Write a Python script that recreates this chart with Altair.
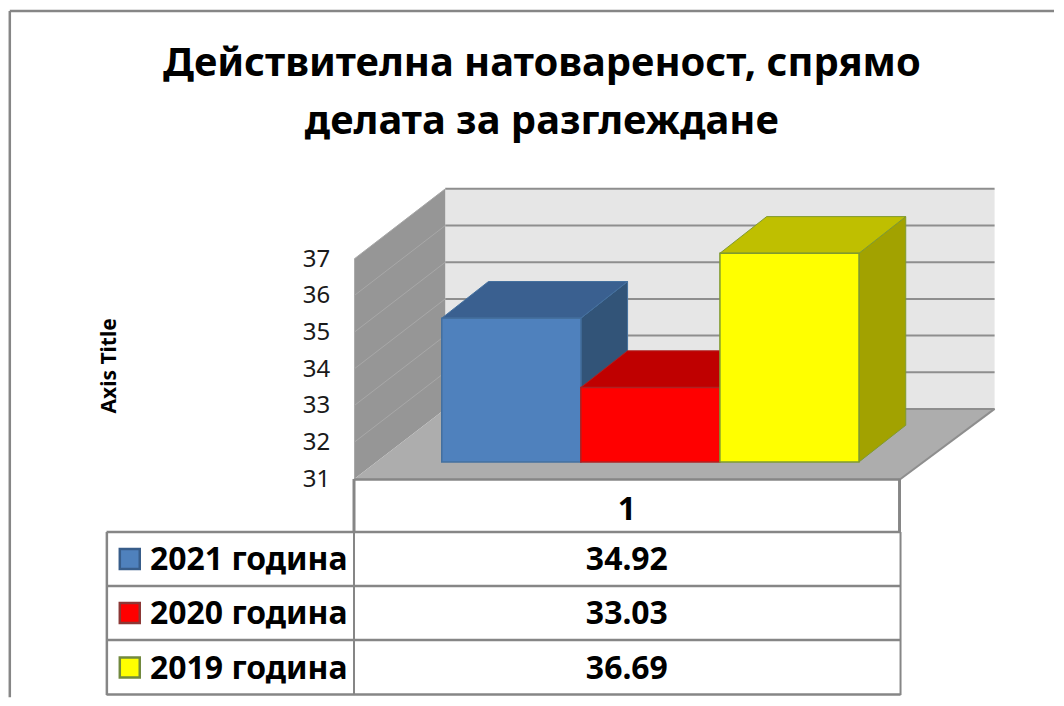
import altair as alt
import pandas as pd

# ---- values
series = ["2021 година", "2020 година", "2019 година"]
values = [34.92, 33.03, 36.69]
value_labels = ["34.92", "33.03", "36.69"]
ticks = [31, 32, 33, 34, 35, 36, 37]
category = "1"
title_lines = ["Действителна натовареност, спрямо", "делата за разглеждане"]
axis_title = "Axis Title"
front_colors = ["#4F81BD", "#FF0000", "#FFFF00"]
top_colors = ["#3A6090", "#BF0000", "#BFBF00"]
side_colors = ["#325478", "#A00000", "#A2A200"]
edge_colors = ["#44709F", "#B02020", "#7F9A30"]
swatch_edges = ["#385D8A", "#8C3836", "#71893F"]

# ---- layout
W, H = 1048, 690
K = 0.9975                          # the page narrows the drawing a little
PX_SLOT, PX_UNIT = 139.0, 36.65     # bar width, pixels per value unit
X0, Y0 = 441.5, 461.0               # page position of the first bar's base
BASE = 31.0
DX = 0.336                          # horizontal shift of a bar's depth, in bar widths
FLOOR_FRONT, FLOOR_BACK = -0.464, 1.446


def sx(px):
    return (px - X0) / PX_SLOT


def vy(py):
    return BASE + (Y0 - py) / PX_UNIT


X = alt.X("x:Q", axis=None, scale=alt.Scale(domain=[sx(8), sx(8 + W * K)], nice=False, zero=False))
Y = alt.Y("y:Q", axis=None, scale=alt.Scale(domain=[vy(8 + H * K), vy(8)], nice=False, zero=False))
X2 = alt.X2("x2:Q")
Y2 = alt.Y2("y2:Q")


def side(rows, color, stroke=None, sw=1):
    df = pd.DataFrame(rows, columns=["x", "y", "y2"])
    kw = {"stroke": stroke, "strokeWidth": sw} if stroke else {}
    return alt.Chart(df).mark_area(color=color, orient="vertical", opacity=1, **kw).encode(x=X, y=Y, y2=Y2)


def top(rows, color, stroke=None, sw=1):
    df = pd.DataFrame(rows, columns=["y", "x", "x2"])
    kw = {"stroke": stroke, "strokeWidth": sw} if stroke else {}
    return alt.Chart(df).mark_area(color=color, orient="horizontal", opacity=1, **kw).encode(y=Y, x=X, x2=X2)


def polyline(rows, color, sw):
    df = pd.DataFrame(rows, columns=["x", "y", "g"])
    return alt.Chart(df).mark_line(color=color, strokeWidth=sw).encode(x=X, y=Y, detail="g:N")


def label(rows, size, weight="bold", align="center", color="#000000", angle=0):
    df = pd.DataFrame(rows, columns=["x", "y", "t"])
    kw = {"angle": angle} if angle else {}
    return alt.Chart(df).mark_text(
        font=FONT, fontSize=size, fontWeight=weight, align=align, baseline="middle", color=color, **kw
    ).encode(x=X, y=Y, text="t:N")


FONT = "Noto Sans"
layers = []

# walls and floor
xl_front, xl_back, xr_front, xr_back = sx(354), sx(445), sx(900), sx(994)
yf = BASE + FLOOR_FRONT
yb = BASE + FLOOR_BACK
span = ticks[-1] - ticks[0]
layers.append(top([[yb, xl_back, xr_back], [yb + span, xl_back, xr_back]], "#E6E6E6"))
layers.append(side([[xl_front, yf, yf + span], [xl_back, yb, yb + span]], "#969696"))
layers.append(top([[yf, xl_front, xr_front], [yb, xl_back, xr_back]], "#ADADAD"))

# gridlines
layers.append(polyline(
    [r for t in ticks for r in ([xl_back, yb + t - BASE, t], [xr_back, yb + t - BASE, t])],
    "#8E8E8E", 2))
layers.append(polyline(
    [r for t in ticks[1:] for r in ([xl_front, yf + t - BASE, t], [xl_back, yb + t - BASE, t])],
    "#A8A8A8", 1))
layers.append(polyline(
    [[xr_front, yf, 0], [xr_back, yb, 0]], "#8E8E8E", 2))

# bars, drawn back-to-front left to right
for i, v in enumerate(values):
    layers.append(side([[i + 1, v, BASE], [i + 1 + DX, v + 1, BASE + 1]], side_colors[i], edge_colors[i]))
    layers.append(top([[v, i, i + 1], [v + 1, i + DX, i + 1 + DX]], top_colors[i], edge_colors[i]))
    front = pd.DataFrame({"x": [i], "x2": [i + 1], "y": [v], "y2": [BASE]})
    layers.append(alt.Chart(front).mark_rect(
        color=front_colors[i], stroke=edge_colors[i], strokeWidth=1.5
    ).encode(x=X, x2=X2, y=Y, y2=Y2))

# table lines
table_h = [(vy(py), sx(106.5), sx(900)) for py in (531, 585, 639, 693.5)]
table_h.append((vy(478.5), sx(354), sx(900)))
rules = pd.DataFrame(table_h, columns=["y", "x", "x2"])
layers.append(alt.Chart(rules).mark_rule(color="#868686", strokeWidth=2.5).encode(y=Y, x=X, x2=X2))
table_v = [(sx(px), vy(a), vy(b), s) for px, a, b, s in [
    (353.8, 478, 531, 3), (899, 478, 531, 3), (353.8, 531, 694, 2), (900, 531, 694, 2), (106.8, 531, 694, 2.5)
]]
for x_, a, b, s in table_v:
    layers.append(alt.Chart(pd.DataFrame({"x": [x_], "y": [a], "y2": [b]})).mark_rule(
        color="#868686", strokeWidth=s).encode(x=X, y=Y, y2=Y2))

# outer border
border = pd.DataFrame({"x": [sx(9.8)], "x2": [sx(8 + W * K)], "y": [vy(10.3)]})
layers.append(alt.Chart(border).mark_rule(color="#868686", strokeWidth=2.5).encode(x=X, x2=X2, y=Y))
border2 = pd.DataFrame({"x": [sx(9.8)], "y": [vy(10.3)], "y2": [vy(8 + H * K)]})
layers.append(alt.Chart(border2).mark_rule(color="#868686", strokeWidth=2.5).encode(x=X, y=Y, y2=Y2))

# swatches
row_y = [558, 612, 666.5]
sw = pd.DataFrame({"x": [sx(129.7)] * 3, "y": [vy(p) for p in row_y], "f": front_colors, "s": swatch_edges})
layers.append(alt.Chart(sw).mark_square(size=400, opacity=1, strokeWidth=2.5).encode(
    x=X, y=Y, fill=alt.Fill("f:N", scale=None), stroke=alt.Stroke("s:N", scale=None)))

# texts
layers.append(label([[sx(150), vy(p + 1), s] for p, s in zip(row_y, series)], 32, align="left"))
layers.append(label([[sx(626.5), vy(p + 1), s] for p, s in zip(row_y, value_labels)], 32))
layers.append(label([[sx(626.5), vy(509), category]], 32))
layers.append(label([[sx(330), yf + t - BASE - 0.02, str(t)] for t in ticks], 24, weight="normal", align="right", color="#1a1a1a"))
layers.append(label([[sx(110), vy(365), axis_title]], 21, angle=270))
layers.append(label([[sx(541.5), vy(63), title_lines[0]], [sx(541.5), vy(121.5), title_lines[1]]], 40))

chart = alt.layer(*layers).properties(
    width=W, height=H, padding=0, background="white"
).configure_view(stroke=None)

chart.save("out.html", embed_options={"renderer": "svg", "actions": False})
